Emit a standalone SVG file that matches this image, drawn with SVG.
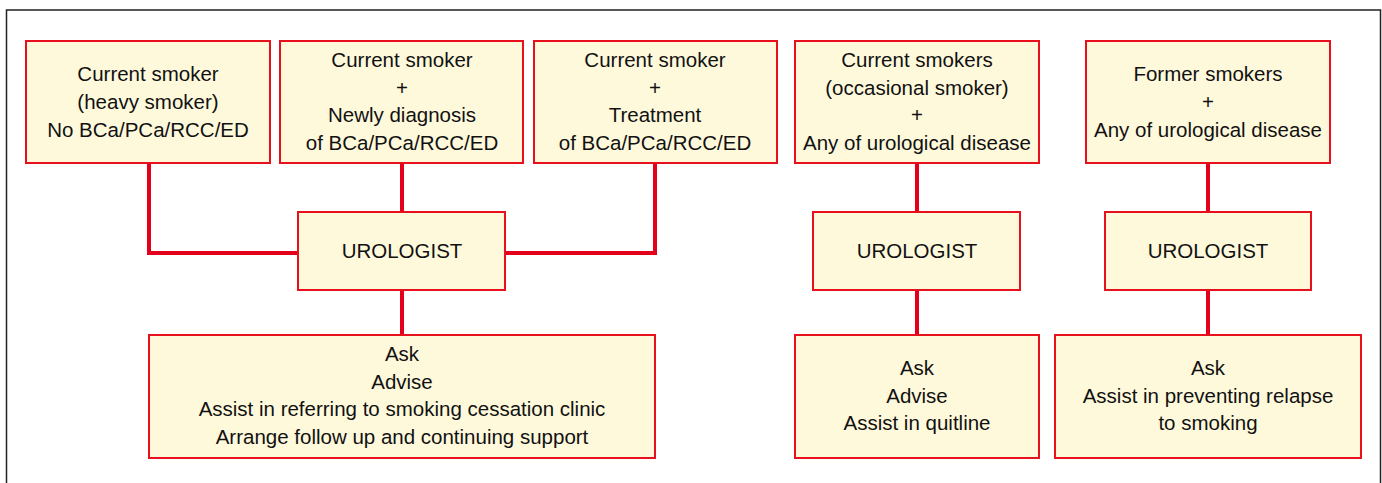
<svg xmlns="http://www.w3.org/2000/svg" width="1382" height="483" viewBox="0 0 1382 483">
<style>
.box{fill:#FFF9DC;stroke:#E8101C;stroke-width:2}
.t{font-family:"Liberation Sans",Arial,sans-serif;font-size:20.5px;fill:#111;text-anchor:middle}
.c{fill:none;stroke:#E3001B;stroke-width:4}
</style>
<rect x="0" y="0" width="1382" height="483" fill="#fff"/>
<rect x="6.5" y="10" width="1374" height="500" fill="none" stroke="#222" stroke-width="1.5"/>
<g id="connectors">
<path class="c" d="M149 164 V253 H298"/>
<path class="c" d="M402 164 V212"/>
<path class="c" d="M655 164 V253 H505"/>
<path class="c" d="M402 290 V335"/>
<path class="c" d="M917 164 V212"/>
<path class="c" d="M917 290 V335"/>
<path class="c" d="M1208 164 V212"/>
<path class="c" d="M1208 290 V335"/>
</g>
<g id="n1"><rect class="box" x="26" y="41" width="244" height="122"/>
<text class="t" x="148" y="81">Current smoker</text><text class="t" x="148" y="109">(heavy smoker)</text><text class="t" x="148" y="137">No BCa/PCa/RCC/ED</text></g>
<g id="n2"><rect class="box" x="280" y="41" width="243" height="122"/>
<text class="t" x="402" y="67">Current smoker</text><text class="t" x="402" y="95">+</text><text class="t" x="402" y="122">Newly diagnosis</text><text class="t" x="402" y="150">of BCa/PCa/RCC/ED</text></g>
<g id="n3"><rect class="box" x="534" y="41" width="243" height="122"/>
<text class="t" x="655" y="67">Current smoker</text><text class="t" x="655" y="95">+</text><text class="t" x="655" y="122">Treatment</text><text class="t" x="655" y="150">of BCa/PCa/RCC/ED</text></g>
<g id="n4"><rect class="box" x="795" y="41" width="244" height="122"/>
<text class="t" x="917" y="67">Current smokers</text><text class="t" x="917" y="95">(occasional smoker)</text><text class="t" x="917" y="122">+</text><text class="t" x="917" y="150">Any of urological disease</text></g>
<g id="n5"><rect class="box" x="1086" y="41" width="244" height="122"/>
<text class="t" x="1208" y="81">Former smokers</text><text class="t" x="1208" y="109">+</text><text class="t" x="1208" y="137">Any of urological disease</text></g>
<g id="u1"><rect class="box" x="298" y="212" width="207" height="78"/><text class="t" x="402" y="258">UROLOGIST</text></g>
<g id="u2"><rect class="box" x="813" y="212" width="207" height="78"/><text class="t" x="917" y="258">UROLOGIST</text></g>
<g id="u3"><rect class="box" x="1105" y="212" width="206" height="78"/><text class="t" x="1208" y="258">UROLOGIST</text></g>
<g id="a1"><rect class="box" x="149" y="335" width="506" height="123"/>
<text class="t" x="402" y="361">Ask</text><text class="t" x="402" y="389">Advise</text><text class="t" x="402" y="416">Assist in referring to smoking cessation clinic</text><text class="t" x="402" y="444">Arrange follow up and continuing support</text></g>
<g id="a2"><rect class="box" x="795" y="335" width="244" height="123"/>
<text class="t" x="917" y="375">Ask</text><text class="t" x="917" y="403">Advise</text><text class="t" x="917" y="430">Assist in quitline</text></g>
<g id="a3"><rect class="box" x="1055" y="335" width="306" height="123"/>
<text class="t" x="1208" y="375">Ask</text><text class="t" x="1208" y="403">Assist in preventing relapse</text><text class="t" x="1208" y="430">to smoking</text></g>
</svg>
